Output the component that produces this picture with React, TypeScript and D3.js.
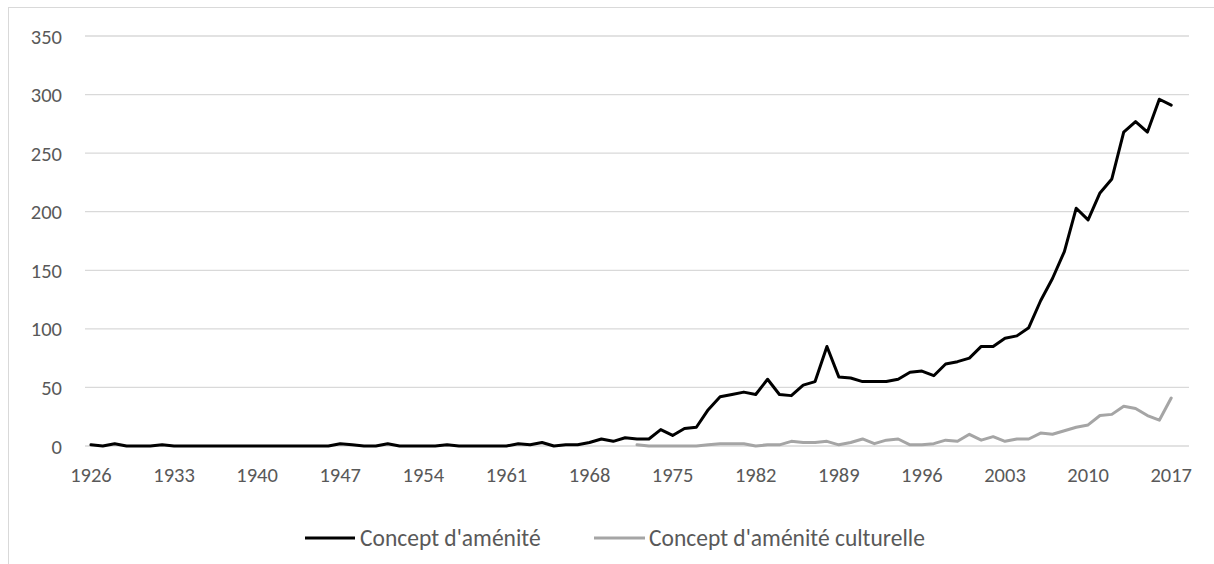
import React from 'react';
import * as d3 from 'd3';

// categories: one per year, the last one (2018) has no value
const years: number[] = d3.range(1926, 2019);
const xTickYears = [1926, 1933, 1940, 1947, 1954, 1961, 1968, 1975, 1982, 1989, 1996, 2003, 2010, 2017];
const yTicks = [0, 50, 100, 150, 200, 250, 300, 350];

// Concept d'aménité, 1926 -> 2017
const amenite = [
    1, 0, 2, 0, 0, 0, 1,
    0, 0, 0, 0, 0, 0, 0, 0, 0, 0, 0, 0, 0, 0,
    2, 1, 0, 0, 2, 0, 0, 0, 0, 1,
    0, 0, 0, 0, 0,
    2, 1, 3, 0, 1, 1, 3,
    6, 4, 7, 6, 6, 14, 9, 15, 16, 31,
    42, 44, 46, 44, 57, 44, 43, 52, 55, 85,
    59, 58, 55, 55, 55, 57, 63, 64, 60, 70,
    72, 75, 85, 85, 92, 94, 101, 124, 143, 166,
    203, 193, 216, 228, 268, 277, 268, 296, 291,
];
const ameniteStart = 1926;

// Concept d'aménité culturelle, 1972 -> 2017
const ameniteCulturelle = [
    1, 0, 0, 0, 0, 0, 1, 2, 2, 2,
    0, 1, 1, 4, 3, 3, 4, 1, 3, 6,
    2, 5, 6, 1, 1, 2, 5, 4, 10, 5,
    8, 4, 6, 6, 11, 10, 13, 16, 18, 26,
    27, 34, 32, 26, 22, 41,
];
const culturelleStart = 1972;

const seriesNames = ["Concept d'aménité", "Concept d'aménité culturelle"];
const seriesColors = ['#000000', '#a5a5a5'];

const W = 1214;
const H = 564;
const font = "Carlito, Calibri, Lato, sans-serif";

export default function App() {
    const x = d3.scaleBand<number>()
        .domain(years)
        .range([85, 1189])
        .padding(0);
    const y = d3.scaleLinear().domain([0, 350]).range([446, 36]);
    const cx = (yr: number) => (x(yr) as number) + x.bandwidth() / 2;

    const line = d3.line<{ yr: number; v: number }>()
        .x(d => cx(d.yr))
        .y(d => y(d.v));

    const s1 = amenite.map((v, i) => ({ yr: ameniteStart + i, v }));
    const s2 = ameniteCulturelle.map((v, i) => ({ yr: culturelleStart + i, v }));

    const legendY = 538;
    const legend = [
        { x1: 305, x2: 355, tx: 360 },
        { x1: 594, x2: 645, tx: 649 },
    ];

    return (
        <div style={{ position: 'fixed', left: 0, top: 0 }}>
            <svg width={W} height={H} style={{ display: 'block', background: '#fff' }}>
                <rect x={8.5} y={7.5} width={W + 20} height={H + 20} fill="#fff" stroke="#d9d9d9" strokeWidth={1} />

                {yTicks.map(t => (
                    <g key={t}>
                        <line x1={85} x2={1189} y1={y(t)} y2={y(t)} stroke="#d9d9d9" strokeWidth={1.3} />
                        <text x={62} y={y(t) + 7.5} textAnchor="end" fontFamily={font} fontSize={20.5} fill="#595959">{t}</text>
                    </g>
                ))}

                {xTickYears.map(yr => (
                    <text key={yr} x={cx(yr)} y={482} textAnchor="middle" fontFamily={font} fontSize={20.5} fill="#595959">{yr}</text>
                ))}

                <path d={line(s2) || ''} fill="none" stroke={seriesColors[1]} strokeWidth={3} strokeLinejoin="round" strokeLinecap="round" />
                <path d={line(s1) || ''} fill="none" stroke={seriesColors[0]} strokeWidth={3} strokeLinejoin="round" strokeLinecap="round" />

                {legend.map((l, i) => (
                    <g key={i}>
                        <line x1={l.x1} x2={l.x2} y1={legendY} y2={legendY} stroke={seriesColors[i]} strokeWidth={3} />
                        <text x={l.tx} y={legendY + 8} fontFamily={font} fontSize={23.5} fill="#595959">{seriesNames[i]}</text>
                    </g>
                ))}
            </svg>
        </div>
    );
}
